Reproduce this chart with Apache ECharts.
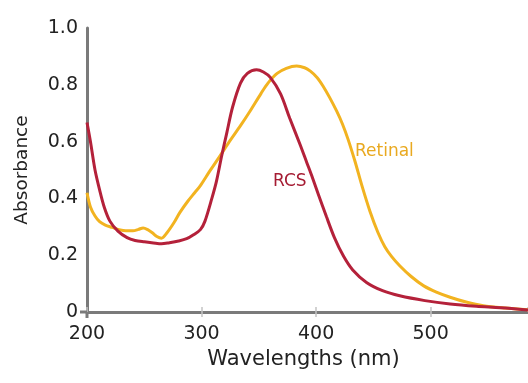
<!DOCTYPE html>
<html>
<head>
<meta charset="utf-8">
<script src="https://cdn.jsdelivr.net/npm/echarts@6/dist/echarts.min.js"></script>
<style>html,body{margin:0;padding:0;background:#fff}#c{width:528px;height:383px}</style>
</head>
<body>
<div id="c"></div>
<script>
// Wavelength (nm) / absorbance pairs
const rcsX = [200,203,207,211,215,220,227,235,242,250,258,265,272,280,287,293,299,303,309,313,317.6,322,327,334,340,348,354,360,369,377,386,392,396,402,409,416,424,432,444,458,473,495,517,540,561,585];
const rcsY = [0.667,0.60,0.50,0.43,0.37,0.32,0.285,0.262,0.252,0.247,0.243,0.240,0.244,0.25,0.258,0.272,0.29,0.32,0.40,0.46,0.55,0.63,0.72,0.806,0.84,0.853,0.845,0.826,0.768,0.682,0.59,0.525,0.482,0.414,0.336,0.262,0.196,0.148,0.104,0.075,0.057,0.04,0.028,0.02,0.015,0.007];
const retX = [200,203,207,211,216,222,228,234,240,245,249,253,257,261,265,270,276,281,288,294,299,307,316,324,334,342,352,358,366,374,383,390,395,401,406,412,418,423,428,434,440,447,454,460,466,473,483,494,505,517,531,546,565,585];
const retY = [0.42,0.37,0.338,0.318,0.306,0.298,0.29,0.286,0.286,0.291,0.296,0.29,0.279,0.266,0.26,0.28,0.315,0.35,0.39,0.42,0.445,0.495,0.549,0.598,0.656,0.705,0.77,0.806,0.84,0.858,0.866,0.86,0.848,0.825,0.796,0.754,0.707,0.662,0.607,0.53,0.445,0.355,0.28,0.23,0.195,0.163,0.125,0.092,0.07,0.052,0.035,0.022,0.014,0.008];
const seriesNames = ['RCS','Retinal'];
const xTicks = [200,300,400,500];
const yTicks = [0,0.2,0.4,0.6,0.8,1.0];

const FONT = 'DejaVu Sans';
const AXIS = '#7a7a7a';
const RED = '#b4213a';
const YEL = '#f2b320';

const chart = echarts.init(document.getElementById('c'), null, {renderer:'canvas'});
const zip = (xs, ys) => xs.map((x,i)=>[x, ys[i]]);

chart.setOption({
  animation:false,
  grid:{left:87, right:0, top:28, bottom:71},
  xAxis:[{
    type:'value', min:xTicks[0], max:585, interval:100,
    name:'Wavelengths (nm)', nameLocation:'middle', nameGap:37,
    nameTextStyle:{fontFamily:FONT, fontSize:21, color:'#222', padding:[0,8,0,0]},
    axisLine:{show:true, onZero:false, lineStyle:{color:AXIS, width:3}},
    axisTick:{show:true, length:5, lineStyle:{color:'#c4c4c4', width:1.5}},
    axisLabel:{fontFamily:FONT, fontSize:19, color:'#222', margin:13, showMaxLabel:false,
      formatter:v => xTicks.includes(v) ? String(v) : ''},
    splitLine:{show:false}
  },{
    type:'value', min:xTicks[0], max:585, interval:100, position:'bottom',
    axisLine:{show:false}, axisLabel:{show:false}, splitLine:{show:false},
    axisTick:{show:true, inside:true, length:5, lineStyle:{color:'#c4c4c4', width:1.5}}
  }],
  yAxis:{
    type:'value', min:yTicks[0], max:yTicks[yTicks.length-1], interval:0.2,
    name:'Absorbance', nameLocation:'middle', nameGap:55,
    nameTextStyle:{fontFamily:FONT, fontSize:18.5, color:'#222'},
    axisLine:{show:true, onZero:false, lineStyle:{color:AXIS, width:3}},
    axisTick:{show:false},
    axisLabel:{fontFamily:FONT, fontSize:19, color:'#222', margin:9,
      formatter:v => v===0 ? '0' : v.toFixed(1)},
    splitLine:{show:false}
  },
  series:[
    {name:seriesNames[1], type:'line', data:zip(retX, retY), smooth:0.3, showSymbol:false,
     lineStyle:{color:YEL, width:3}, z:2},
    {name:seriesNames[0], type:'line', data:zip(rcsX, rcsY), smooth:0.3, showSymbol:false,
     lineStyle:{color:RED, width:3}, z:3}
  ]
});

const o = chart.convertToPixel({xAxisIndex:0, yAxisIndex:0}, [xTicks[0], 0]);
chart.setOption({
  graphic:[
    {type:'line', shape:{x1:o[0], y1:o[1], x2:o[0], y2:o[1]+6}, style:{stroke:AXIS, lineWidth:3}, z:100},
    {type:'line', shape:{x1:o[0]-7, y1:o[1], x2:o[0], y2:o[1]}, style:{stroke:AXIS, lineWidth:3}, z:100},
    {type:'text', left:355, top:143, style:{text:seriesNames[1], fill:'#e9a920', font:'17px "DejaVu Sans"'}, z:100},
    {type:'text', left:273, top:173, style:{text:seriesNames[0], fill:'#a51c33', font:'17px "DejaVu Sans"'}, z:100}
  ]
});
</script>
</body>
</html>
